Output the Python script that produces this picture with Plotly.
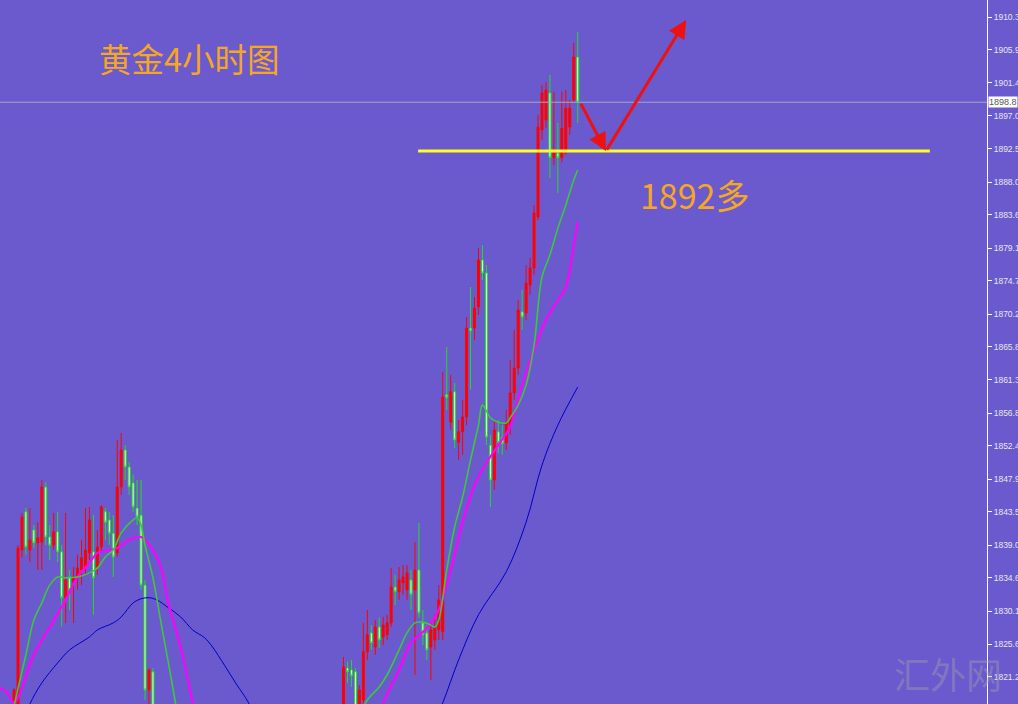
import plotly.graph_objects as go

# ---- Candle data (bar number, open, high, low, close) ----
bars = list(range(0, 36)) + list(range(83, 143))

opens = [1815.4, 1815.4, 1838.35, 1843.5, 1838.35, 1841.05, 1839.3, 1839.4, 1846.85, 1840.1,
         1839.0, 1840.8, 1838.1, 1831.9, 1834.7, 1833.9, 1834.7, 1835.65, 1836.05, 1837.95,
         1838.1, 1836.05, 1838.75, 1843.5, 1842.4, 1840.6, 1837.95, 1846.85, 1851.85, 1849.55,
         1847.4, 1844.0, 1843.05, 1833.6, 1819.45, 1821.9,
         1815.4, 1822.4, 1822.15, 1821.9, 1815.6, 1818.1, 1824.6, 1827.15, 1825.25, 1827.95,
         1826.6, 1826.9, 1828.5, 1833.35, 1832.7, 1833.9, 1832.95, 1834.3, 1832.95, 1835.65,
         1828.5, 1827.15, 1825.25, 1826.2, 1827.55, 1827.3, 1859.3, 1855.6, 1859.7, 1852.9,
         1854.3, 1856.3, 1868.3, 1868.3, 1871.15, 1877.5, 1875.75, 1852.5, 1847.8, 1854.3,
         1853.5, 1852.8, 1855.2, 1859.55, 1862.9, 1870.5, 1870.35, 1874.1, 1876.4, 1883.3,
         1895.05, 1896.4, 1900.05, 1891.3, 1891.95, 1891.3, 1892.35, 1895.45, 1899.1, 1904.9]
highs = [1819.7, 1839.0, 1843.35, 1844.0, 1844.0, 1841.7, 1842.1, 1847.8, 1847.5, 1841.7,
         1843.35, 1843.5, 1839.0, 1843.35, 1835.65, 1836.05, 1837.7, 1839.7, 1844.0, 1844.15,
         1843.05, 1841.05, 1844.4, 1844.0, 1843.5, 1843.05, 1853.2, 1854.15, 1852.5, 1850.2,
         1848.5, 1847.8, 1847.8, 1834.3, 1822.4, 1822.4,
         1823.9, 1823.25, 1823.5, 1822.4, 1820.1, 1828.5, 1830.25, 1828.2, 1828.9, 1829.2,
         1829.3, 1829.6, 1835.9, 1835.0, 1836.05, 1836.3, 1836.3, 1835.65, 1839.4, 1842.0,
         1830.25, 1828.2, 1828.6, 1829.6, 1833.6, 1862.4, 1865.75, 1862.0, 1860.9, 1855.9,
         1858.6, 1869.8, 1873.85, 1872.5, 1879.1, 1879.5, 1876.8, 1853.9, 1855.9, 1855.9,
         1855.2, 1857.25, 1864.0, 1868.05, 1872.1, 1873.45, 1876.8, 1877.75, 1884.9, 1897.1,
         1901.1, 1901.5, 1902.5, 1900.2, 1896.0, 1900.2, 1900.45, 1899.1, 1906.8, 1908.3]
lows = [1815.0, 1815.0, 1837.3, 1837.7, 1836.7, 1838.6, 1835.65, 1835.65, 1839.0, 1837.0,
        1838.35, 1836.7, 1828.0, 1828.5, 1830.25, 1828.5, 1833.0, 1833.6, 1835.0, 1837.0,
        1829.6, 1835.0, 1838.1, 1839.7, 1839.0, 1834.7, 1837.4, 1845.8, 1847.8, 1845.8,
        1843.5, 1841.7, 1833.0, 1818.1, 1816.75, 1814.7,
        1814.7, 1820.4, 1819.85, 1815.4, 1815.2, 1817.6, 1823.5, 1824.85, 1824.2, 1825.1,
        1825.5, 1826.2, 1828.0, 1830.9, 1831.6, 1832.3, 1831.6, 1830.25, 1821.5, 1829.2,
        1825.5, 1823.5, 1820.8, 1824.85, 1826.2, 1826.2, 1857.25, 1854.55, 1852.1, 1850.5,
        1851.2, 1855.2, 1860.0, 1866.7, 1870.1, 1874.8, 1852.5, 1844.15, 1846.45, 1851.4,
        1851.2, 1851.85, 1853.9, 1858.6, 1862.0, 1868.05, 1869.4, 1872.8, 1875.5, 1882.9,
        1893.7, 1895.3, 1888.55, 1890.3, 1886.55, 1890.7, 1891.7, 1894.4, 1898.8, 1896.0]
closes = [1819.45, 1838.6, 1842.8, 1838.75, 1839.7, 1839.3, 1840.0, 1846.85, 1840.1, 1839.0,
          1840.8, 1838.1, 1831.9, 1834.3, 1833.0, 1834.7, 1835.9, 1837.3, 1838.35, 1842.4,
          1834.6, 1838.75, 1844.15, 1842.1, 1840.6, 1837.4, 1846.85, 1851.85, 1849.55, 1846.85,
          1844.15, 1842.8, 1833.6, 1819.45, 1822.15, 1815.4,
          1822.55, 1821.9, 1821.35, 1816.1, 1819.45, 1824.6, 1826.9, 1825.8, 1827.95, 1826.2,
          1828.2, 1828.5, 1833.35, 1832.7, 1834.3, 1834.7, 1835.25, 1832.3, 1835.65, 1829.85,
          1826.9, 1824.85, 1827.55, 1827.8, 1831.6, 1859.0, 1858.9, 1859.7, 1853.2, 1854.3,
          1856.3, 1868.3, 1867.9, 1871.0, 1877.5, 1875.75, 1853.6, 1847.8, 1854.55, 1852.9,
          1852.7, 1855.5, 1859.55, 1862.9, 1870.75, 1869.8, 1874.4, 1876.4, 1883.85, 1895.45,
          1900.05, 1900.45, 1891.3, 1891.95, 1891.3, 1895.3, 1898.0, 1898.0, 1904.9, 1898.8]

# ---- Moving averages ----
ma_fast_bar = [0, 3, 5, 7, 9, 11, 13, 16, 19, 21, 23, 25, 27, 30, 31, 32, 33, 35, 37, 39, 41, 43]
ma_fast = [1817.3, 1824.2, 1828.9, 1831.2, 1833.6, 1834.7, 1834.6, 1834.7, 1835.25, 1835.9,
           1837.4, 1838.35, 1840.65, 1842.4, 1842.7, 1841.7, 1839.0, 1834.6, 1828.6, 1822.8,
           1816.75, 1811.35]
ma_fast_bar2 = [86, 89, 92, 94, 97, 99, 101, 103, 105, 106, 107, 109, 111, 113, 115, 117, 118,
                120, 122, 124, 125, 127, 129, 131, 133, 135, 137, 139, 141, 142]
ma_fast2 = [1814.7, 1818.1, 1819.85, 1821.5, 1824.85, 1827.15, 1828.5, 1828.6, 1828.2, 1827.95,
            1828.9, 1835.65, 1841.45, 1845.5, 1850.5, 1855.2, 1857.9, 1856.2, 1855.6, 1855.5,
            1856.2, 1857.9, 1860.6, 1866.0, 1875.2, 1878.2, 1881.8, 1884.9, 1888.3, 1889.65]

ma_mid_bar = [-3.5, -2, 0, 1, 5, 9, 13, 16, 19, 21, 23, 26, 29, 31, 32, 33, 35, 37, 39, 41, 43, 45, 47]
ma_mid = [1819.7, 1819.2, 1817.7, 1818.4, 1824.2, 1827.95, 1831.6, 1834.7, 1836.6, 1837.95,
          1838.2, 1838.6, 1839.7, 1840.1, 1840.1, 1839.7, 1838.35, 1836.0, 1830.9, 1827.15,
          1822.8, 1817.7, 1812.7]
ma_mid_bar2 = [90, 93, 97, 100, 104, 107, 110, 113, 116, 119, 122, 125, 128, 131, 134, 137,
               139, 141, 142]
ma_mid2 = [1812.7, 1817.7, 1822.15, 1825.8, 1827.8, 1830.25, 1835.65, 1842.1, 1847.1, 1850.1,
           1852.5, 1855.0, 1860.6, 1865.35, 1869.4, 1872.1, 1873.85, 1879.5, 1882.6]

ma_slow_bar = [2, 4, 7, 11, 14, 19, 21, 25, 27, 30, 32, 34, 36, 39, 42, 45, 48, 50, 53, 56, 59, 61]
ma_slow = [1814.7, 1817.55, 1820.4, 1823.1, 1824.85, 1826.6, 1827.55, 1828.5, 1829.3, 1831.2,
           1831.75, 1831.9, 1831.6, 1830.5, 1829.3, 1827.55, 1826.5, 1825.25, 1822.8, 1820.25,
           1817.8, 1815.4]
ma_slow_bar2 = [105, 108, 112, 117, 124, 129, 133, 137, 142]
ma_slow2 = [1814.05, 1817.7, 1823.5, 1829.6, 1835.4, 1842.1, 1849.8, 1855.2, 1860.35]

# ---- Axis ticks / annotations ----
tick_vals = [1910.3, 1905.9, 1901.4, 1897.0, 1892.5, 1888.0, 1883.6, 1879.1, 1874.7, 1870.2,
             1865.8, 1861.3, 1856.8, 1852.4, 1847.9, 1843.5, 1839.0, 1834.6, 1830.1, 1825.6, 1821.2]
tick_text = [f"{v:.1f}" for v in tick_vals]
last_price = 1898.8
support_level = 1892.2
support_from, support_to = 101.8, 230.7
arrow_path = [(142.6, 1898.8), (149.1, 1892.2), (169.3, 1909.9)]
title_text = "黄金4小时图"
level_text = "1892多"
watermark = "汇外网"

BG = "#6a5acd"
fig = go.Figure()

fig.add_trace(go.Candlestick(
    x=bars, open=opens, high=highs, low=lows, close=closes,
    increasing=dict(line=dict(color="#ff0000", width=1), fillcolor="#ff0000"),
    decreasing=dict(line=dict(color="#22dd22", width=1), fillcolor="#f0fff0"),
    whiskerwidth=0, showlegend=False, hoverinfo="skip"))

for xs, ys, col, w in [
    (ma_slow_bar, ma_slow, "#0000c8", 1), (ma_slow_bar2, ma_slow2, "#0000c8", 1),
    (ma_mid_bar, ma_mid, "#ff00ff", 2.2), (ma_mid_bar2, ma_mid2, "#ff00ff", 2.2),
    (ma_fast_bar, ma_fast, "#3cc83c", 1.6), (ma_fast_bar2, ma_fast2, "#3cc83c", 1.6)]:
    fig.add_trace(go.Scatter(x=xs, y=ys, mode="lines", line=dict(color=col, width=w, shape="spline"),
                             showlegend=False, hoverinfo="skip"))

fig.add_shape(type="line", xref="paper", x0=0, x1=1, yref="y", y0=last_price, y1=last_price,
              line=dict(color="#a8a8b8", width=1))
fig.add_shape(type="line", xref="x", x0=support_from, x1=support_to, yref="y",
              y0=support_level, y1=support_level, line=dict(color="#ffff22", width=3))

for (ax, ay), (hx, hy) in zip(arrow_path[:-1], arrow_path[1:]):
    fig.add_annotation(x=hx, y=hy, ax=ax, ay=ay, xref="x", yref="y", axref="x", ayref="y",
                       text="", showarrow=True, arrowhead=2, arrowsize=1.2, arrowwidth=3,
                       arrowcolor="#ee1111", standoff=0, startstandoff=0)

fig.add_annotation(x=44.1, y=1904.77, xref="x", yref="y", text=title_text, showarrow=False,
                   font=dict(family="Noto Sans CJK SC", size=32.5, color="#f5a623"))
fig.add_annotation(x=171.5, y=1886.4, xref="x", yref="y", text=level_text, showarrow=False,
                   font=dict(family="Noto Sans CJK SC", size=34, color="#f5a623"))
fig.add_annotation(x=0.9605, y=0.044, xref="paper", yref="paper", xanchor="center", yanchor="middle",
                   text=watermark, showarrow=False,
                   font=dict(family="Noto Sans CJK SC", size=36, color="rgba(160,155,175,0.45)"))
fig.add_annotation(x=1, xref="paper", xanchor="left", xshift=1, y=last_price, yref="y",
                   text=f"{last_price:.1f}", showarrow=False, bgcolor="#ffffff", borderpad=0,
                   font=dict(family="Liberation Sans", size=9, color="#555555"))

fig.update_layout(
    width=1018, height=704, margin=dict(l=0, r=31, t=0, b=0, autoexpand=False),
    paper_bgcolor=BG, plot_bgcolor=BG, showlegend=False,
    xaxis=dict(range=[-3.53, 245.1], showgrid=False, zeroline=False, showticklabels=False,
               ticks="", rangeslider=dict(visible=False), fixedrange=True, automargin=False),
    yaxis=dict(range=[1817.55, 1912.6], side="right", showgrid=False, zeroline=False,
               showline=True, linecolor="#ffffff", linewidth=1, ticks="outside", ticklen=4,
               tickcolor="#ffffff", tickvals=tick_vals, ticktext=tick_text, automargin=False,
               tickfont=dict(family="Liberation Sans", size=8.5, color="#e6e6f0"), fixedrange=True),
)

fig.write_html("out.html", config={"displayModeBar": False},
               post_script="document.body.style.margin='0';document.body.style.overflow='hidden';")
